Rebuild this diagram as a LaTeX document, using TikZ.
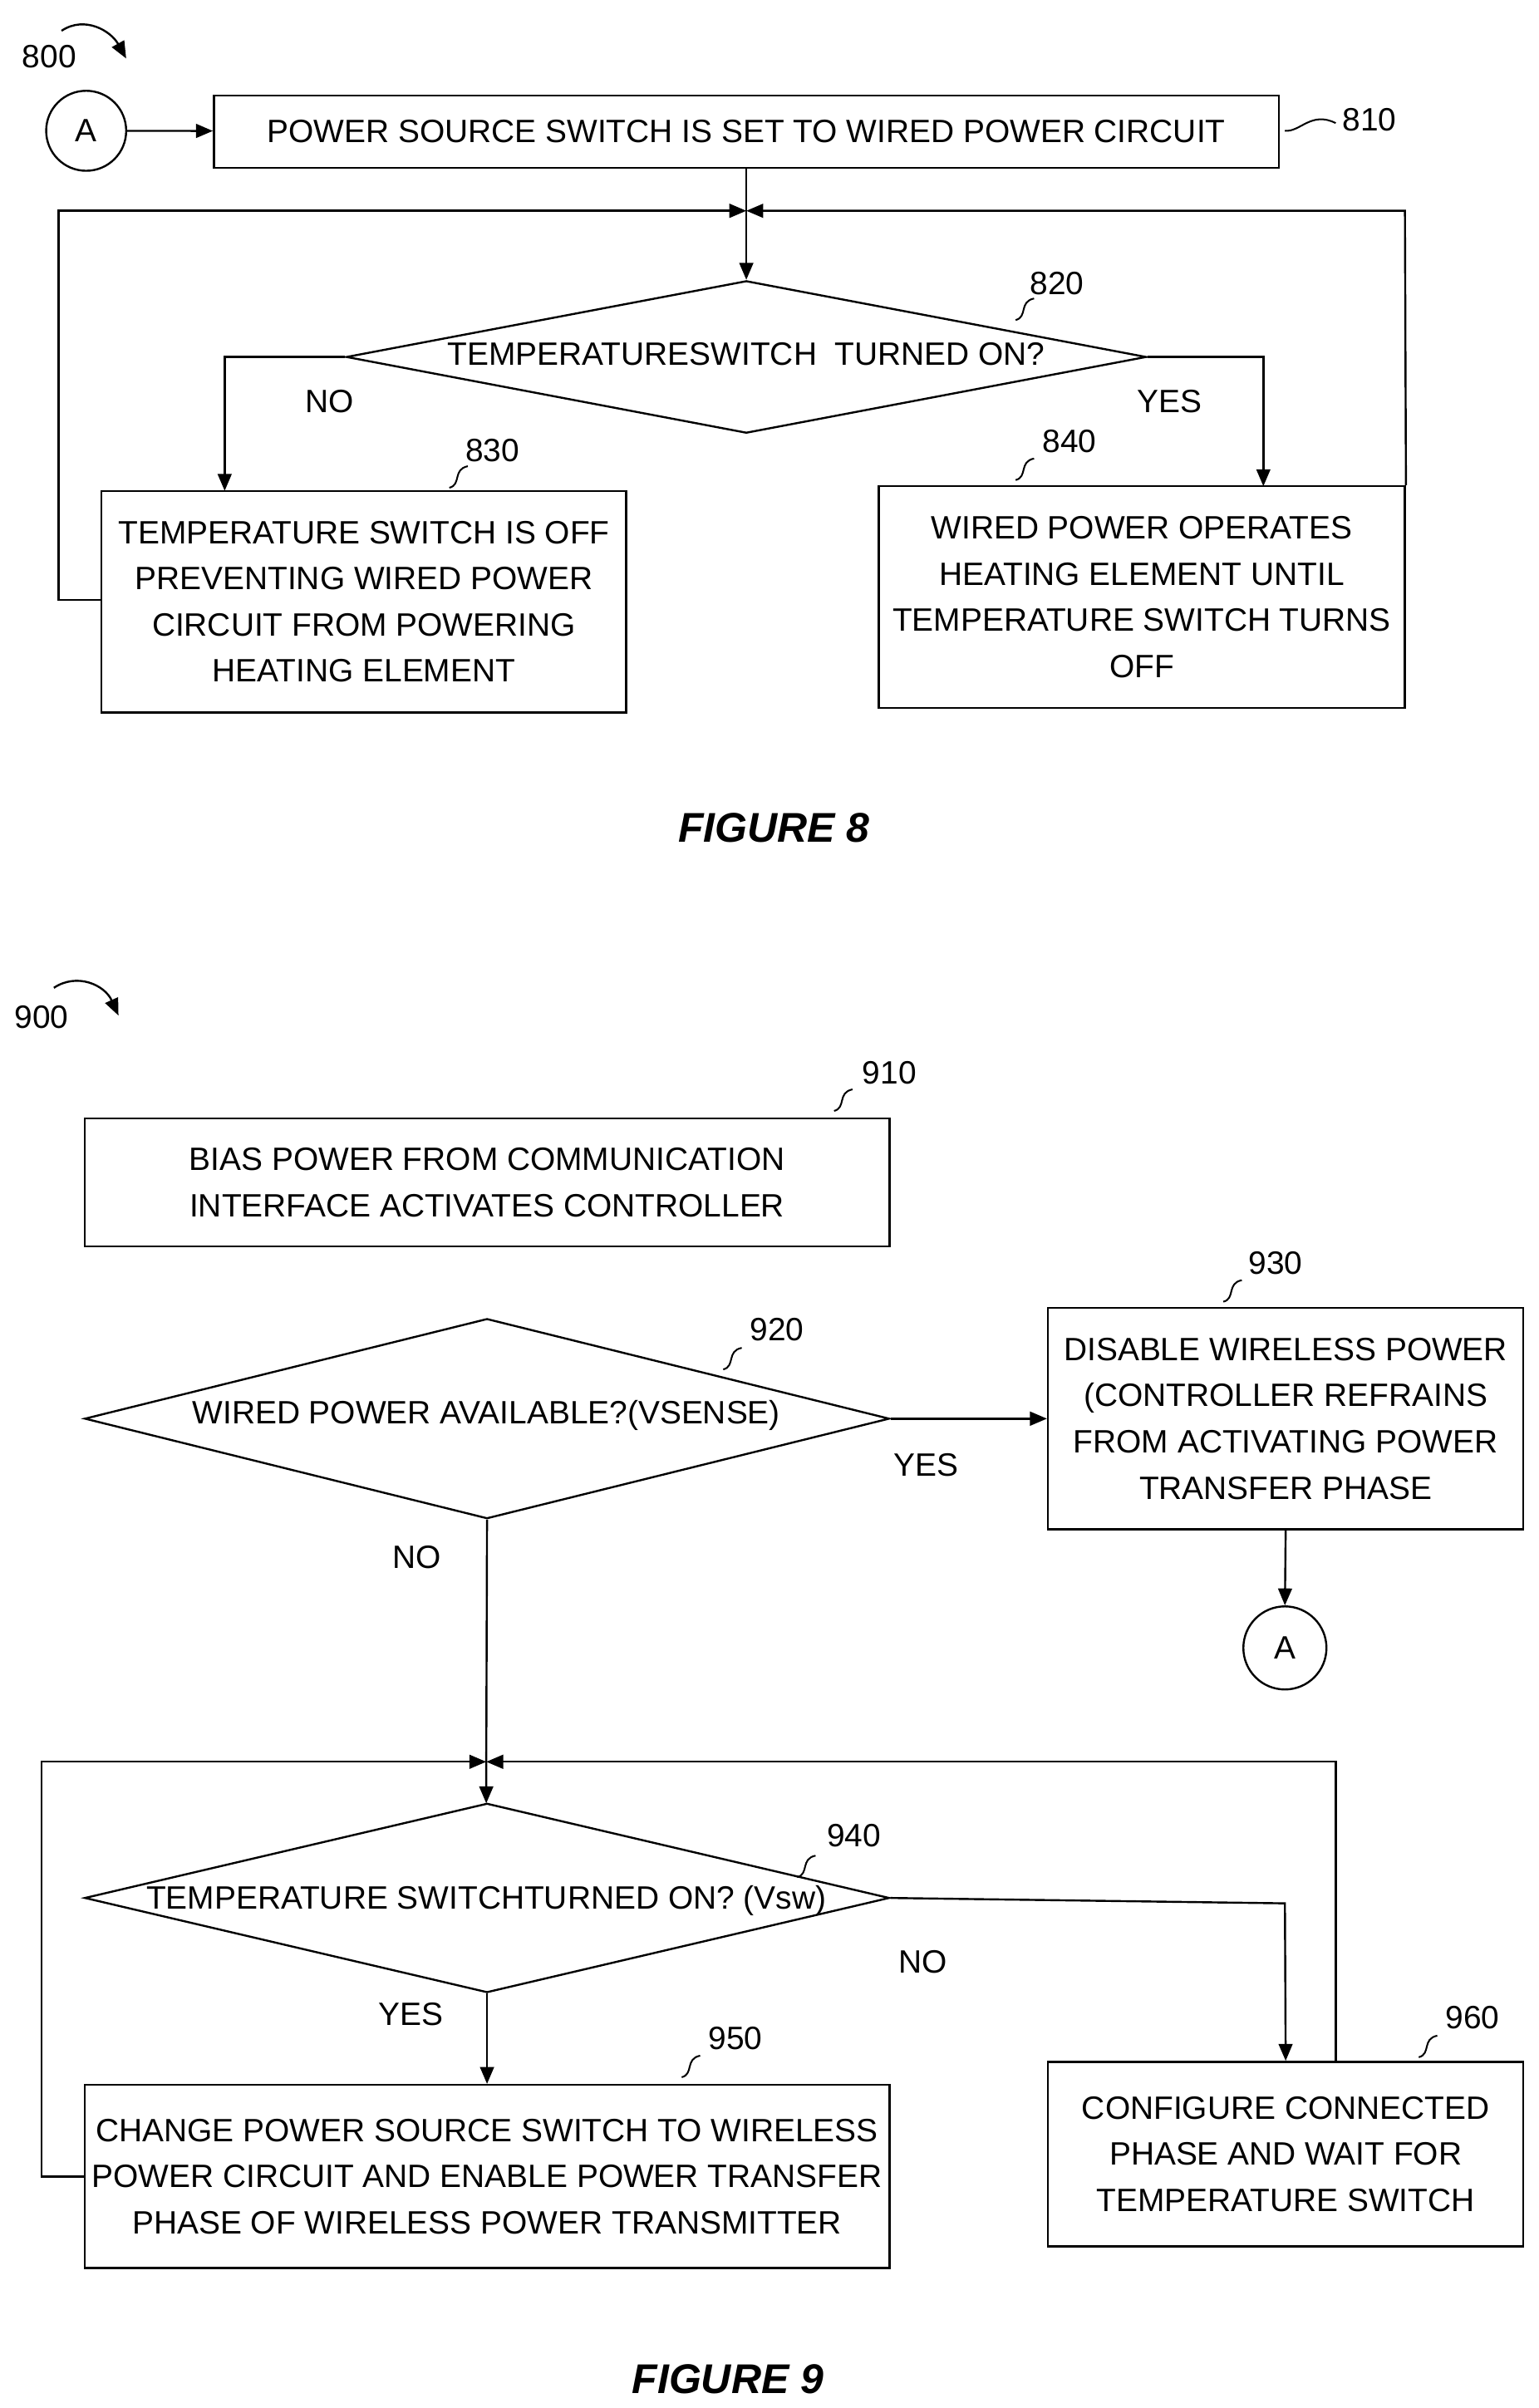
\documentclass[tikz,border=0pt]{standalone}
\usepackage{fontspec}
\setmainfont{Liberation Sans}
\usetikzlibrary{arrows.meta,shapes.geometric}
\begin{document}
\begin{tikzpicture}[x=1pt,y=-1pt,
  every node/.style={font=\fontsize{21}{30}\selectfont},
  box/.style={draw,line width=1.3pt,align=center,inner sep=0pt},
  dia/.style={draw,line width=1.3pt,diamond,aspect=4,align=center,inner sep=0pt},
  ln/.style={line width=1.3pt},
  ar/.style={line width=1.3pt,-{Triangle[length=11pt,width=9pt]}},
  lab/.style={font=\fontsize{21}{25}\selectfont},
  fig/.style={font=\fontsize{27}{30}\selectfont\bfseries\itshape}]
\newcommand\sq[2]{\draw[line width=1.1pt] (#1,#2) .. controls (#1+8,#2-2) and (#1+2,#2-12) .. (#1+12,#2-14);}
\useasboundingbox (0,0) rectangle (1000,1565);
% ---------- FIGURE 8
\node[lab] (l800) at (32,37) {800};
\draw[ar] (40,20) .. controls (55,10) and (72,20) .. (82,38);
\node[draw,circle,line width=1.3pt,minimum size=52pt,inner sep=0pt] (cA) at (56,85) {A};
\node[box,minimum width=692pt,minimum height=47pt] (b810) at (485,85.5) {POWER SOURCE SWITCH IS SET TO WIRED POWER CIRCUIT};
\draw[ar] (cA) -- (b810);
\node[lab] (l810) at (890,78) {810};
\draw[line width=1.1pt] (835,85) .. controls (845,86) and (852,72) .. (868,80);
\coordinate (j8) at (485,137);
\node[dia,minimum width=520pt,minimum height=99pt] (d820) at (485,232) {};
\node at (485,230) {TEMPERATURE\\SWITCH\ \ TURNED ON?};
\node[lab] (l820) at (687,184) {820};
\sq{660}{208}
\node[box,minimum width=341pt,minimum height=144pt] (b830) at (236.5,391) {TEMPERATURE SWITCH IS OFF\\PREVENTING WIRED POWER\\CIRCUIT FROM POWERING\\HEATING ELEMENT};
\node[box,minimum width=342pt,minimum height=144pt] (b840) at (742,388) {WIRED POWER OPERATES\\HEATING ELEMENT UNTIL\\TEMPERATURE SWITCH TURNS\\OFF};
\node[lab] (l830) at (320,293) {830};
\sq{292}{317}
\node[lab] (l840) at (695,287) {840};
\sq{660}{312}
\draw[ar] (b810.south) -- (d820.north);
\draw[ar] (d820.west) -- (146,232) -- (146,319);
\draw[ar] (d820.east) -- (821,232) -- (821,316);
\node (no8) at (214,261) {NO};
\node (yes8) at (760,261) {YES};
\draw[ar] (b830.west |- 0,390) -- (38,390) -- (38,137) -- (j8);
\draw[ar] (b840.north east) -- (913,137) -- (j8);
\node[fig] (f8) at (503,538) {FIGURE 8};
% ---------- FIGURE 9
\node[lab] (l900) at (27,661) {900};
\draw[ar] (35,642) .. controls (50,632) and (68,640) .. (77,660);
\node[box,minimum width=523pt,minimum height=83pt] (b910) at (316.5,768.5) {BIAS POWER FROM COMMUNICATION\\INTERFACE ACTIVATES CONTROLLER};
\node[lab] (l910) at (578,697) {910};
\sq{542}{722}
\node[dia,minimum width=523pt,minimum height=130pt] (d920) at (316.5,922) {};
\node at (316,920) {WIRED POWER AVAILABLE?\\(VSENSE)};
\node[lab] (l920) at (505,864) {920};
\sq{470}{890}
\node[box,minimum width=309pt,minimum height=144pt] (b930) at (835.5,922) {DISABLE WIRELESS POWER\\(CONTROLLER REFRAINS\\FROM ACTIVATING POWER\\TRANSFER PHASE};
\node[lab] (l930) at (829,821) {930};
\sq{795}{846}
\node[draw,circle,line width=1.3pt,minimum size=54pt,inner sep=0pt] (cA2) at (835,1071) {A};
\draw[ar] (d920.east) -- (b930.west);
\node (yes9) at (602,952) {YES};
\draw[ar] (b930.south) -- (cA2.north);
\node (no9) at (271,1012) {NO};
\coordinate (j9) at (316,1145);
\draw[ar] (d920.south) -- (j9) -- (316,1172);
\node[dia,minimum width=523pt,minimum height=123pt] (d940) at (316.5,1233.5) {};
\node at (316,1235) {TEMPERATURE SWITCH\\TURNED ON? (Vsw)};
\node[lab] (l940) at (555,1193) {940};
\sq{518}{1220}
\node[box,minimum width=523pt,minimum height=119pt] (b950) at (316.5,1414.5) {CHANGE POWER SOURCE SWITCH TO WIRELESS\\POWER CIRCUIT AND ENABLE POWER TRANSFER\\PHASE OF WIRELESS POWER TRANSMITTER};
\node[lab] (l950) at (478,1325) {950};
\sq{443}{1350}
\node[box,minimum width=309pt,minimum height=120pt] (b960) at (835.5,1400) {CONFIGURE CONNECTED\\PHASE AND WAIT FOR\\TEMPERATURE SWITCH};
\node[lab] (l960) at (957,1311) {960};
\sq{922}{1337}
\draw[ar] (d940.south) -- (b950.north);
\node (yes9b) at (267,1309) {YES};
\draw[ar] (d940.east) -- (835,1237) -- (b960.north);
\node (no9b) at (600,1275) {NO};
\draw[ar] (b950.west) -- (27,1414.5) -- (27,1145) -- (j9);
\draw[ar] (868,1340) -- (868,1145) -- (j9);
\node[fig] (f9) at (473,1546) {FIGURE 9};
\end{tikzpicture}
\end{document}
